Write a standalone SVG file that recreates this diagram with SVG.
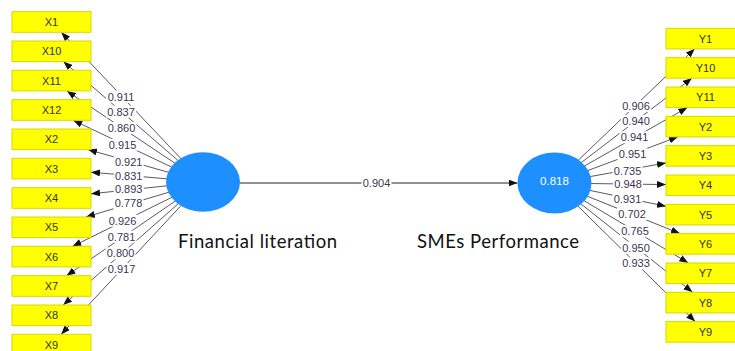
<svg xmlns="http://www.w3.org/2000/svg" width="735" height="351" viewBox="0 0 735 351">
<defs>
<marker id="ah" markerUnits="userSpaceOnUse" markerWidth="9" markerHeight="7" refX="9" refY="3.5" orient="auto">
<path d="M0,0 L9,3.5 L0,7 z" fill="#111"/>
</marker>
<style>
.ld{stroke:#5a5a5a;stroke-width:1;fill:none;marker-end:url(#ah)}
.main{stroke:#222;stroke-width:1;fill:none;marker-end:url(#ah)}
.bx{fill:#ffff00;stroke:#d8d800;stroke-width:1}
.bt{font-family:"Liberation Sans",Arial,sans-serif;font-size:11px;fill:#333;text-anchor:middle}
.lv{font-family:"Liberation Sans",Arial,sans-serif;font-size:11px;fill:#3a3550;text-anchor:middle}
.lb{fill:#fff}
.lv-el{fill:#1e8fff}
.cap{font-family:Lato,"Liberation Sans",Arial,sans-serif;font-size:18.5px;fill:#111}
</style>
</defs>
<rect width="735" height="351" fill="#fff"/>
<g id="connectors">
<line class="ld" x1="203" y1="182" x2="61.3" y2="32.3"/>
<line class="ld" x1="203" y1="182" x2="63.4" y2="61.6"/>
<line class="ld" x1="203" y1="182" x2="66.9" y2="91"/>
<line class="ld" x1="203" y1="182" x2="73.2" y2="120.3"/>
<line class="ld" x1="203" y1="182" x2="88" y2="149.6"/>
<line class="ld" x1="203" y1="182" x2="91" y2="172.2"/>
<line class="ld" x1="203" y1="182" x2="91" y2="193.8"/>
<line class="ld" x1="203" y1="182" x2="85.9" y2="217"/>
<line class="ld" x1="203" y1="182" x2="72.4" y2="246.4"/>
<line class="ld" x1="203" y1="182" x2="66.5" y2="275.7"/>
<line class="ld" x1="203" y1="182" x2="63.2" y2="305"/>
<line class="ld" x1="203" y1="182" x2="61.1" y2="334.4"/>
<line class="main" x1="240" y1="183" x2="517.5" y2="183"/>
<line class="ld" x1="554.5" y1="183" x2="694.7" y2="48.8"/>
<line class="ld" x1="554.5" y1="183" x2="692" y2="78.1"/>
<line class="ld" x1="554.5" y1="183" x2="687.4" y2="107.5"/>
<line class="ld" x1="554.5" y1="183" x2="678" y2="136.8"/>
<line class="ld" x1="554.5" y1="183" x2="666" y2="162.9"/>
<line class="ld" x1="554.5" y1="183" x2="666" y2="184.6"/>
<line class="ld" x1="554.5" y1="183" x2="666" y2="206.3"/>
<line class="ld" x1="554.5" y1="183" x2="679.9" y2="233.5"/>
<line class="ld" x1="554.5" y1="183" x2="688.3" y2="262.9"/>
<line class="ld" x1="554.5" y1="183" x2="692.5" y2="292.2"/>
<line class="ld" x1="554.5" y1="183" x2="695.1" y2="321.5"/>
</g>
<g id="FL">
<ellipse class="lv-el" cx="203" cy="182" rx="37" ry="29.7"/>
<text class="cap" x="178" y="248" textLength="159">Financial literation</text>
</g>
<g id="SP">
<ellipse class="lv-el" cx="554.5" cy="183" rx="37" ry="30.5"/>
<text x="554.5" y="185" font-family="Liberation Sans, Arial, sans-serif" font-size="11.5" fill="#fff" text-anchor="middle">0.818</text>
<text class="cap" x="417" y="248" textLength="162">SMEs Performance</text>
</g>
<g id="X1"><rect class="bx" x="12" y="11.7" width="79" height="20.6"/><text class="bt" x="51.5" y="26">X1</text></g>
<g id="X10"><rect class="bx" x="12" y="41" width="79" height="20.6"/><text class="bt" x="51.5" y="55.3">X10</text></g>
<g id="X11"><rect class="bx" x="12" y="70.3" width="79" height="20.6"/><text class="bt" x="51.5" y="84.6">X11</text></g>
<g id="X12"><rect class="bx" x="12" y="99.7" width="79" height="20.6"/><text class="bt" x="51.5" y="114">X12</text></g>
<g id="X2"><rect class="bx" x="12" y="129" width="79" height="20.6"/><text class="bt" x="51.5" y="143.3">X2</text></g>
<g id="X3"><rect class="bx" x="12" y="158.3" width="79" height="20.6"/><text class="bt" x="51.5" y="172.6">X3</text></g>
<g id="X4"><rect class="bx" x="12" y="187.7" width="79" height="20.6"/><text class="bt" x="51.5" y="202">X4</text></g>
<g id="X5"><rect class="bx" x="12" y="217" width="79" height="20.6"/><text class="bt" x="51.5" y="231.3">X5</text></g>
<g id="X6"><rect class="bx" x="12" y="246.3" width="79" height="20.6"/><text class="bt" x="51.5" y="260.6">X6</text></g>
<g id="X7"><rect class="bx" x="12" y="275.7" width="79" height="20.6"/><text class="bt" x="51.5" y="290">X7</text></g>
<g id="X8"><rect class="bx" x="12" y="305" width="79" height="20.6"/><text class="bt" x="51.5" y="319.3">X8</text></g>
<g id="X9"><rect class="bx" x="12" y="334.3" width="79" height="20.6"/><text class="bt" x="51.5" y="348.6">X9</text></g>
<g id="Y1"><rect class="bx" x="666" y="28.3" width="79" height="20.6"/><text class="bt" x="705.5" y="42.6">Y1</text></g>
<g id="Y10"><rect class="bx" x="666" y="57.6" width="79" height="20.6"/><text class="bt" x="705.5" y="71.9">Y10</text></g>
<g id="Y11"><rect class="bx" x="666" y="87" width="79" height="20.6"/><text class="bt" x="705.5" y="101.3">Y11</text></g>
<g id="Y2"><rect class="bx" x="666" y="116.3" width="79" height="20.6"/><text class="bt" x="705.5" y="130.6">Y2</text></g>
<g id="Y3"><rect class="bx" x="666" y="145.6" width="79" height="20.6"/><text class="bt" x="705.5" y="159.9">Y3</text></g>
<g id="Y4"><rect class="bx" x="666" y="175" width="79" height="20.6"/><text class="bt" x="705.5" y="189.3">Y4</text></g>
<g id="Y5"><rect class="bx" x="666" y="204.3" width="79" height="20.6"/><text class="bt" x="705.5" y="218.6">Y5</text></g>
<g id="Y6"><rect class="bx" x="666" y="233.6" width="79" height="20.6"/><text class="bt" x="705.5" y="247.9">Y6</text></g>
<g id="Y7"><rect class="bx" x="666" y="263" width="79" height="20.6"/><text class="bt" x="705.5" y="277.3">Y7</text></g>
<g id="Y8"><rect class="bx" x="666" y="292.3" width="79" height="20.6"/><text class="bt" x="705.5" y="306.6">Y8</text></g>
<g id="Y9"><rect class="bx" x="666" y="321.6" width="79" height="20.6"/><text class="bt" x="705.5" y="335.9">Y9</text></g>
<g id="connector-labels">
<rect class="lb" x="106" y="90.7" width="30" height="12"/><text class="lv" x="121" y="100.7">0.911</text>
<rect class="lb" x="106" y="105.7" width="30" height="12"/><text class="lv" x="121" y="115.7">0.837</text>
<rect class="lb" x="106.5" y="122" width="30" height="12"/><text class="lv" x="121.5" y="132">0.860</text>
<rect class="lb" x="107.5" y="138.7" width="30" height="12"/><text class="lv" x="122.5" y="148.7">0.915</text>
<rect class="lb" x="113.7" y="156.3" width="30" height="12"/><text class="lv" x="128.7" y="166.3">0.921</text>
<rect class="lb" x="113.7" y="170" width="30" height="12"/><text class="lv" x="128.7" y="180">0.831</text>
<rect class="lb" x="113.7" y="183.3" width="30" height="12"/><text class="lv" x="128.7" y="193.3">0.893</text>
<rect class="lb" x="113.5" y="197.3" width="30" height="12"/><text class="lv" x="128.5" y="207.3">0.778</text>
<rect class="lb" x="107.5" y="214.7" width="30" height="12"/><text class="lv" x="122.5" y="224.7">0.926</text>
<rect class="lb" x="106.5" y="230.7" width="30" height="12"/><text class="lv" x="121.5" y="240.7">0.781</text>
<rect class="lb" x="105.5" y="247.3" width="30" height="12"/><text class="lv" x="120.5" y="257.3">0.800</text>
<rect class="lb" x="106.5" y="263" width="30" height="12"/><text class="lv" x="121.5" y="273">0.917</text>
<rect class="lb" x="361.5" y="177" width="30" height="12"/><text class="lv" x="376.5" y="187">0.904</text>
<rect class="lb" x="621" y="100" width="30" height="12"/><text class="lv" x="636" y="110">0.906</text>
<rect class="lb" x="621" y="115" width="30" height="12"/><text class="lv" x="636" y="125">0.940</text>
<rect class="lb" x="619.5" y="131.3" width="30" height="12"/><text class="lv" x="634.5" y="141.3">0.941</text>
<rect class="lb" x="617.5" y="148.3" width="30" height="12"/><text class="lv" x="632.5" y="158.3">0.951</text>
<rect class="lb" x="612.5" y="165" width="30" height="12"/><text class="lv" x="627.5" y="175">0.735</text>
<rect class="lb" x="613" y="178.3" width="30" height="12"/><text class="lv" x="628" y="188.3">0.948</text>
<rect class="lb" x="612.5" y="193" width="30" height="12"/><text class="lv" x="627.5" y="203">0.931</text>
<rect class="lb" x="617" y="208" width="30" height="12"/><text class="lv" x="632" y="218">0.702</text>
<rect class="lb" x="620" y="225.3" width="30" height="12"/><text class="lv" x="635" y="235.3">0.765</text>
<rect class="lb" x="621" y="241.7" width="30" height="12"/><text class="lv" x="636" y="251.7">0.950</text>
<rect class="lb" x="621" y="257.3" width="30" height="12"/><text class="lv" x="636" y="267.3">0.933</text>
</g>
</svg>
